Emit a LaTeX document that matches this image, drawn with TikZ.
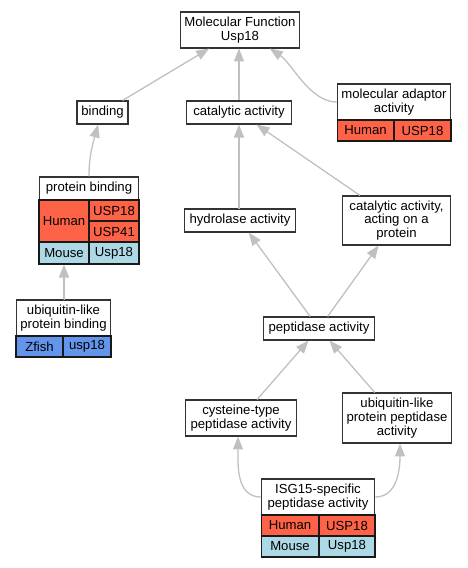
\documentclass[tikz,border=0pt]{standalone}
\usepackage{fontspec}
\setmainfont{Liberation Sans}
\usetikzlibrary{arrows.meta}

\definecolor{humanred}{HTML}{FF6347}
\definecolor{mouseblue}{HTML}{ADD8E6}
\definecolor{zfishblue}{HTML}{6495ED}
\definecolor{edgegray}{HTML}{C0C0C0}
\newcommand{\gofont}{\fontsize{13.2}{13.7}\selectfont}

\tikzset{
  term/.style={draw=black!80, line width=1.2, fill=white, inner sep=0, align=center, font=\gofont},
  cell/.style={draw=black!90, line width=1.2, inner sep=0, font=\gofont, minimum height=21},
  human/.style={cell, fill=humanred},
  mouse/.style={cell, fill=mouseblue},
  zfish/.style={cell, fill=zfishblue},
  edge/.style={draw=edgegray, line width=1.3, -{Triangle[length=13, width=10]}}
}

\begin{document}
\begin{tikzpicture}[x=1bp, y=1bp]
    \useasboundingbox (0,0) rectangle (468,-568);

    % Knoten
    \node[term, minimum width=120, minimum height=36] (mf) at (240,-30) {Molecular Function\\Usp18};
    \node[term, minimum width=51, minimum height=23] (binding) at (102.5,-112.5) {binding};
    \node[term, minimum width=106, minimum height=23] (cat) at (239,-112.5) {catalytic activity};
    \node[term, minimum width=114, minimum height=36] (mad) at (394,-102) {molecular adaptor\\activity};
    \node[term, minimum width=100, minimum height=23] (pb) at (89,-188.5) {protein binding};
    \node[term, minimum width=112, minimum height=23] (hyd) at (240,-220.5) {hydrolase activity};
    \node[term, minimum width=109, minimum height=49] (cap) at (396.5,-220.5) {catalytic activity,\\acting on a\\protein};
    \node[term, minimum width=95, minimum height=36] (ubl) at (63.5,-318) {ubiquitin-like\\protein binding};
    \node[term, minimum width=112, minimum height=23] (pep) at (319,-328.5) {peptidase activity};
    \node[term, minimum width=112, minimum height=36] (cys) at (241,-418) {cysteine-type\\peptidase activity};
    \node[term, minimum width=110, minimum height=50] (ubpep) at (397,-418) {ubiquitin-like\\protein peptidase\\activity};
    \node[term, minimum width=114, minimum height=36] (isg) at (318,-497) {ISG15-specific\\peptidase activity};

    % Tabellen
    \node[human, minimum width=57] (madhuman) at (365.5,-130.5) {Human};
    \node[human, minimum width=57] (madgene) at (422.5,-130.5) {USP18};

    \node[human, minimum width=50, minimum height=42] (pbhuman) at (64,-221) {Human};
    \node[human, minimum width=50] (pbgenea) at (114,-210.5) {USP18};
    \node[human, minimum width=50] (pbgeneb) at (114,-231.5) {USP41};
    \node[mouse, minimum width=50, minimum height=22] (pbmouse) at (64,-253) {Mouse};
    \node[mouse, minimum width=50, minimum height=22] (pbmgene) at (114,-253) {Usp18};

    \node[zfish, minimum width=47] (ublzfish) at (39.5,-346.5) {Zfish};
    \node[zfish, minimum width=48] (ublgene) at (87,-346.5) {usp18};

    \node[human, minimum width=58] (isghuman) at (290,-525.5) {Human};
    \node[human, minimum width=56] (isggene) at (347,-525.5) {USP18};
    \node[mouse, minimum width=58] (isgmouse) at (290,-546.5) {Mouse};
    \node[mouse, minimum width=56] (isgmgene) at (347,-546.5) {Usp18};

    % Pfeile
    \draw[edge] (binding) -- (mf);
    \draw[edge] (cat.north) -- (cat.north |- mf.south);
    \draw[edge] (mad.west) to[out=180, in=-34, looseness=0.8] ([xshift=30]mf.south);
    \draw[edge] (pb.north) to[out=90, in=-105] ([xshift=-4.5]binding.south);
    \draw[edge] (hyd.north) -- (hyd.north -| cat.south) -- (cat.south);
    \draw[edge] (cap) -- (cat);
    \draw[edge] (pep) -- (hyd);
    \draw[edge] (pep) -- (cap);
    \draw[edge] (ubl.north) -- (ubl.north -| pbmouse.south) -- (pbmouse.south);
    \draw[edge] (cys) -- (pep);
    \draw[edge] (ubpep) -- (pep);
    \draw[edge] (isg.west) to[out=180, in=-90] ([xshift=-3]cys.south);
    \draw[edge] (isg.east) to[out=0, in=-90] ([xshift=3]ubpep.south);
\end{tikzpicture}
\end{document}
